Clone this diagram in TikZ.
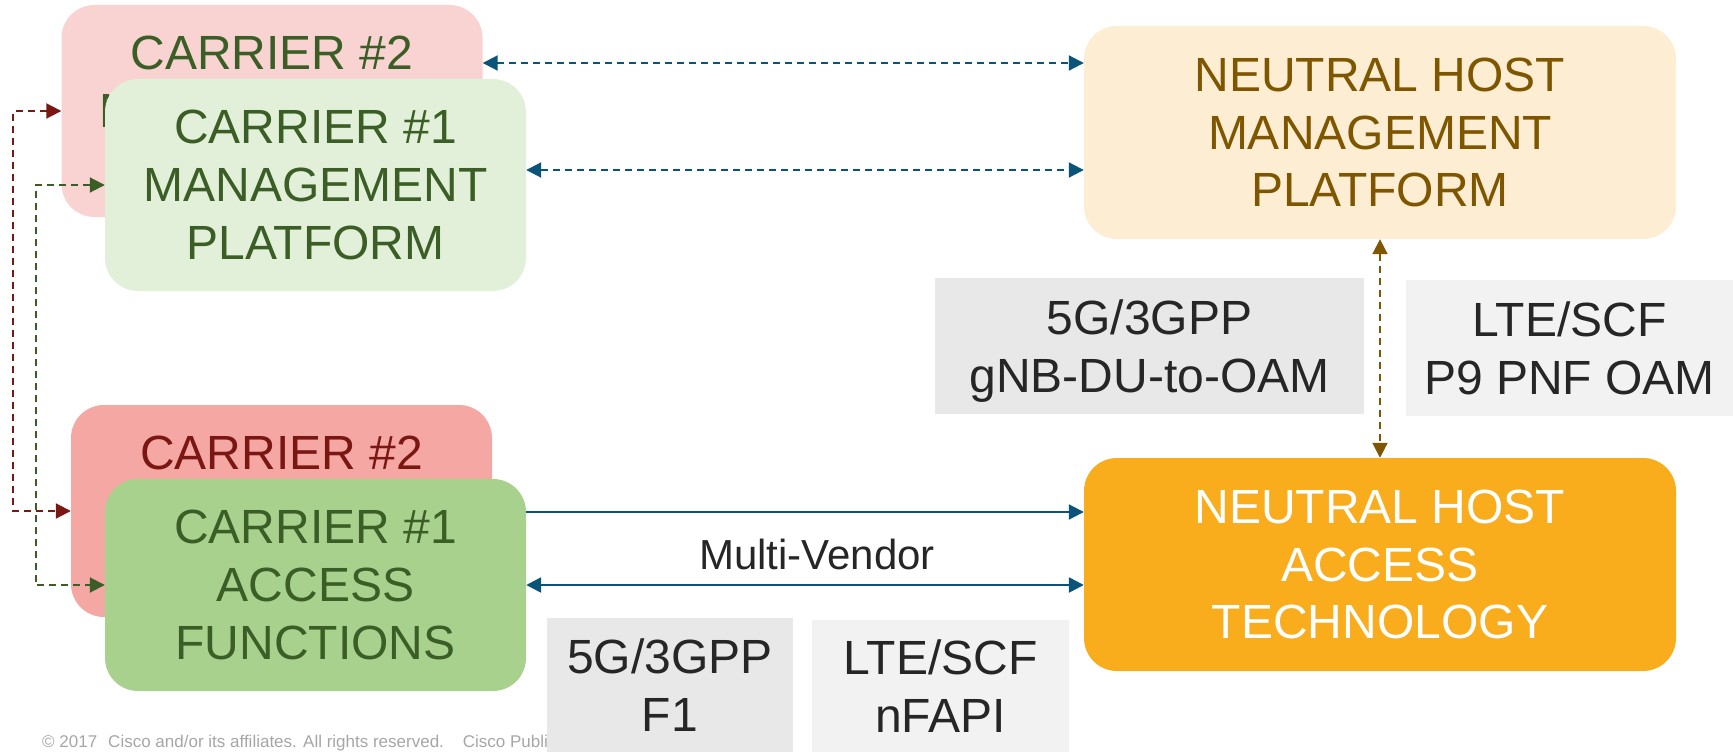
\documentclass[tikz,border=0pt]{standalone}
\usepackage{fontspec}
\setmainfont{Liberation Sans}
\usetikzlibrary{positioning,arrows.meta}
\definecolor{pinkMgmt}{HTML}{F9D3D1}
\definecolor{greenMgmt}{HTML}{E2F0D9}
\definecolor{pinkAcc}{HTML}{F4A7A3}
\definecolor{greenAcc}{HTML}{A9D18E}
\definecolor{greenText}{HTML}{3B5E26}
\definecolor{redText}{HTML}{7A1712}
\definecolor{hostMgmtFill}{HTML}{FDEDD2}
\definecolor{hostText}{HTML}{7F5600}
\definecolor{hostAccFill}{HTML}{F9AC1C}
\definecolor{linkBlue}{HTML}{0B5479}
\definecolor{grayA}{HTML}{E8E8E8}
\definecolor{grayB}{HTML}{F2F2F2}
\definecolor{darkText}{HTML}{262626}
\definecolor{copyGray}{HTML}{A6A6A6}
\tikzset{
mybox/.style={
  rectangle,
  rounded corners=33pt,
  inner sep=0pt,
  minimum width=421pt,
  minimum height=212pt,
  align=center,
  execute at begin node=\rule{0pt}{42pt},
  font=\fontsize{48}{57.6}\selectfont
  }
}
\tikzset{
  graybox/.style 2 args={
    rectangle,
    fill=#1,
    minimum width=#2,
    minimum height=136pt,
    inner sep=0pt,
    text depth=0pt,
    align=center,
    text=darkText,
    execute at begin node=\rule{0pt}{40pt},
    font=\fontsize{48}{57.6}\selectfont
  },
  dashlink/.style={draw=#1, line width=2pt, dash pattern=on 7pt off 5pt, <->},
  solidlink/.style={draw=linkBlue, line width=#1}
}

\begin{document}
\begin{tikzpicture}[>={Triangle[length=15pt,width=15pt]}, x=1pt, y=-1pt]
\useasboundingbox (0,0) rectangle (1733,752);

\node[mybox, fill=pinkMgmt, text=greenText]
at (272,111)
(mgmt2) {CARRIER \#2\\MANAGEMENT\\PLATFORM};
\node[mybox, fill=greenMgmt, text=greenText]
at (315.5,185)
(mgmt1) {CARRIER \#1\\MANAGEMENT\\PLATFORM};

\node[mybox, fill=pinkAcc, text=redText]
at (281.5,511)
(acc2) {CARRIER \#2\\ACCESS\\FUNCTIONS};
\node[mybox, fill=greenAcc, text=greenText]
at (315.5,585)
(acc1) {CARRIER \#1\\ACCESS\\FUNCTIONS};

\node[mybox, minimum width=592pt, minimum height=213pt,
    fill=hostMgmtFill, text=hostText]
at (1380,132.5)
(hostMgmt) {NEUTRAL HOST\\MANAGEMENT\\PLATFORM};
\node[mybox, minimum width=592pt, minimum height=213pt,
    fill=hostAccFill, text=white]
at (1380,564.5)
(hostAcc) {NEUTRAL HOST\\ACCESS\\TECHNOLOGY};

\node[anchor=base west, inner sep=0pt, text=copyGray,
    font=\fontsize{17}{20}\selectfont]
at (42,747)
(copyright) {© 2017\hspace{11pt}Cisco and/or its affiliates. All rights reserved.\hspace{19pt}Cisco Public};

\node[graybox={grayA}{429pt}] at (1149.5,346) (gnbText) {5G/3GPP\\gNB-DU-to-OAM};
\node[graybox={grayB}{327pt}] at (1569.5,348) (pnfText) {LTE/SCF\\P9 PNF OAM};
\node[graybox={grayA}{246pt}, minimum height=134pt] at (670,685) (fOneText) {5G/3GPP\\F1};
\node[graybox={grayB}{257pt}, minimum height=132pt] at (940.5,686) (fapiText) {LTE/SCF\\nFAPI};

\node[text=darkText, font=\fontsize{42}{50}\selectfont]
at (817,554)
(vendor) {Multi-Vendor};

\begin{scope}
\coordinate (m2) at ([yshift=48pt]mgmt2.east);
\coordinate (m1) at ([yshift=15pt]mgmt1.east);
\coordinate (a1) at ([yshift=73pt]acc1.east);
\draw[dashlink=linkBlue]
  (m2) -- (m2 -| hostMgmt.west);
\draw[dashlink=linkBlue]
  (m1) -- (m1 -| hostMgmt.west);
\draw[solidlink=2pt, ->]
  (a1) -- (a1 -| hostAcc.west);
\draw[solidlink=2.5pt, <->]
  (acc1.east) -- (acc1.east -| hostAcc.west);
\draw[dashlink=hostText]
  (hostMgmt.south) -- (hostAcc.north);
\draw[dashlink=redText]
  (mgmt2.west) -- ++(-48,0) |- (acc2.west);
\draw[dashlink=greenText]
  (mgmt1.west) -- ++(-69,0) |- (acc1.west);
\end{scope}
\end{tikzpicture}
\end{document}
